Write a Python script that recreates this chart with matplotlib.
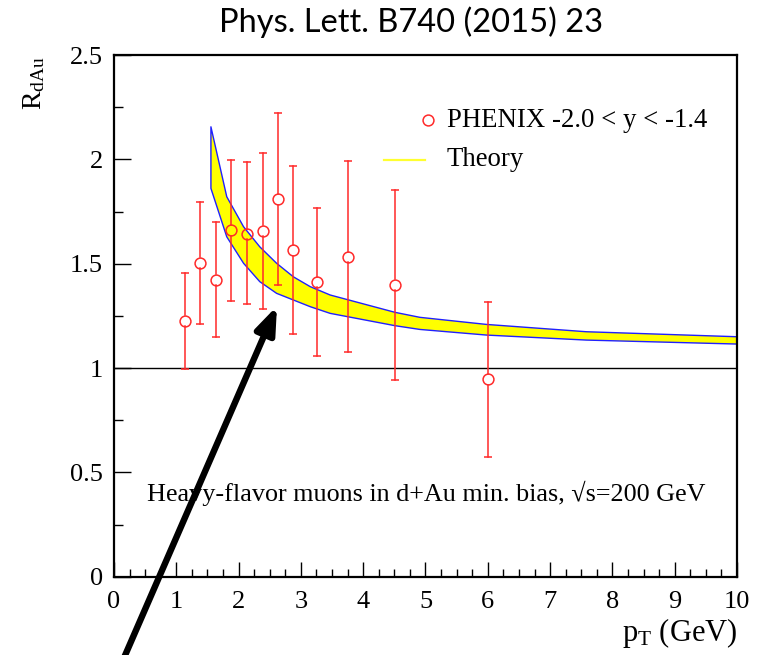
import numpy as np
import matplotlib
matplotlib.use("Agg")
import matplotlib.pyplot as plt
from matplotlib.ticker import MultipleLocator

plt.rcParams['font.family'] = ['Liberation Serif', 'DejaVu Serif']
plt.rcParams['mathtext.fontset'] = 'custom'
plt.rcParams['mathtext.rm'] = 'Liberation Serif'
plt.rcParams['mathtext.it'] = 'Liberation Serif:italic'

# PHENIX heavy-flavor muons, d+Au, -2.0 < y < -1.4
pt = [1.14, 1.385, 1.64, 1.88, 2.13, 2.39, 2.63, 2.88, 3.26, 3.76, 4.51, 6.0]
rdau = [1.227, 1.505, 1.423, 1.660, 1.642, 1.658, 1.808, 1.564, 1.412, 1.532, 1.399, 0.946]
rdau_hi = [1.457, 1.797, 1.698, 1.997, 1.986, 2.032, 2.220, 1.969, 1.768, 1.992, 1.853, 1.315]
rdau_lo = [0.995, 1.212, 1.149, 1.321, 1.305, 1.281, 1.396, 1.161, 1.057, 1.075, 0.943, 0.575]

# theory band edges
th_pt = [1.556, 1.81, 2.08, 2.34, 2.61, 2.88, 3.15, 3.47, 4.51, 4.91, 5.98, 7.58, 10.0]
th_upper = [2.156, 1.821, 1.677, 1.581, 1.502, 1.437, 1.390, 1.350, 1.267, 1.243, 1.209, 1.174, 1.150]
th_lower = [1.861, 1.629, 1.502, 1.414, 1.358, 1.326, 1.294, 1.262, 1.203, 1.185, 1.158, 1.134, 1.115]

RED = '#ff2a2a'

fig = plt.figure(figsize=(7.65, 6.55), dpi=100)
ax = fig.add_axes([0.149, 0.1195, 0.8144, 0.7965])
ax.set_xlim(0, 10)
ax.set_ylim(0, 2.5)

# band
poly_x = np.concatenate([th_pt, th_pt[::-1]])
poly_y = np.concatenate([th_upper, th_lower[::-1]])
ax.fill(poly_x, poly_y, facecolor='#ffff00', edgecolor='#2020ff', lw=1.0,
        joinstyle='round', zorder=2)

ax.axhline(1.0, color='black', lw=1.0, zorder=1)

# error bars stop at the marker edge
ms = 7.8
fig.canvas.draw()
p0 = ax.transData.transform((0, 0))
p1 = ax.transData.transform((0, 1))
gap = (ms / 2 * fig.dpi / 72) / (p1[1] - p0[1])
for x, y, hi, lo in zip(pt, rdau, rdau_hi, rdau_lo):
    ax.plot([x, x], [y + gap, hi], color=RED, lw=1.1, zorder=3)
    ax.plot([x, x], [lo, y - gap], color=RED, lw=1.1, zorder=3)
ax.plot(pt, rdau_hi, ls='none', marker='_', ms=5.5, mew=1.1, color=RED, zorder=3)
ax.plot(pt, rdau_lo, ls='none', marker='_', ms=5.5, mew=1.1, color=RED, zorder=3)
ax.plot(pt, rdau, ls='none', marker='o', ms=ms, mfc='none', mec=RED, mew=1.1, zorder=4)

# legend
ax.plot([0.504], [0.875], transform=ax.transAxes, marker='o', ms=ms,
        mfc='none', mec=RED, mew=1.1, ls='none')
ax.text(0.5345, 0.875, 'PHENIX -2.0 < y < -1.4', transform=ax.transAxes,
        fontsize=19.3, va='center', ha='left')
ax.plot([0.433, 0.499], [0.799, 0.799], transform=ax.transAxes, color='#ffff30', lw=1.6)
ax.text(0.5345, 0.799, 'Theory', transform=ax.transAxes,
        fontsize=19.3, va='center', ha='left')

ax.text(0.053, 0.160, 'Heavy-flavor muons in d+Au min. bias, \u221as=200 GeV',
        transform=ax.transAxes, fontsize=18.8, va='center', ha='left')

# axes styling
for s in ax.spines.values():
    s.set_linewidth(1.6)
ax.xaxis.set_major_locator(MultipleLocator(1))
ax.xaxis.set_minor_locator(MultipleLocator(0.25))
ax.yaxis.set_major_locator(MultipleLocator(0.5))
ax.yaxis.set_minor_locator(MultipleLocator(0.25))
ax.set_xticks(np.arange(0, 11, 1))
ax.set_xticklabels([str(i) for i in range(11)])
ax.set_yticks([0, 0.5, 1, 1.5, 2, 2.5])
ax.set_yticklabels(['0', '0.5', '1', '1.5', '2', '2.5'])
ax.tick_params(axis='both', which='both', direction='in', top=False, right=False,
               labelsize=19, width=1.0)
ax.tick_params(axis='y', which='major', length=12, pad=8)
ax.tick_params(axis='y', which='minor', length=6.5)
ax.tick_params(axis='x', which='major', length=11, pad=10)
ax.tick_params(axis='x', which='minor', length=5.5)

fig.text(737 / 765, 1 - 633 / 655, r'p$_{\rm T}$ (GeV)', fontsize=22,
         ha='right', va='center')
fig.text(34 / 765, 1 - 56 / 655, r'R$_{\rm dAu}$', fontsize=20,
         ha='center', va='top', rotation=90)

fig.text(411 / 765, 1 - 22 / 655, 'Phys. Lett. B740 (2015) 23', fontsize=23.5,
         family='Lato', ha='center', va='center')

# arrow pointing at the band
ax.annotate('', xy=(277, 655 - 306), xytext=(120, -12),
            xycoords='figure pixels', textcoords='figure pixels',
            annotation_clip=False,
            arrowprops=dict(arrowstyle='-|>,head_length=1.6,head_width=0.6',
                            mutation_scale=10, lw=4.6, color='black',
                            shrinkA=0, shrinkB=0))

fig.savefig('out.png', dpi=100)
